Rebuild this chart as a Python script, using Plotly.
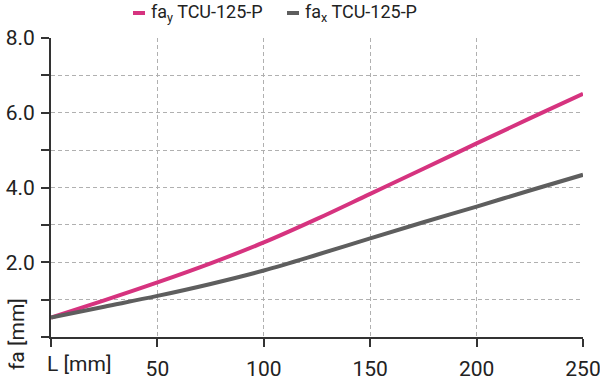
import plotly.graph_objects as go

L = [0, 25, 50, 75, 100, 125, 150, 175, 200, 225, 250]
fa_y = [0.52, 0.98, 1.46, 1.97, 2.53, 3.16, 3.83, 4.50, 5.18, 5.85, 6.51]
fa_x = [0.52, 0.81, 1.10, 1.42, 1.78, 2.20, 2.64, 3.07, 3.49, 3.92, 4.34]
series_names = ["fa<sub>y</sub> TCU-125-P", "fa<sub>x</sub> TCU-125-P"]
x_ticks = [0, 50, 100, 150, 200, 250]
x_ticktext = ["", "50", "100", "150", "200", "250"]
y_ticks = [0, 1, 2, 3, 4, 5, 6, 7, 8]
y_ticktext = ["", "", "2.0", "", "4.0", "", "6.0", "", "8.0"]

FONT = "Roboto, sans-serif"
PINK = "#d6337f"
GRAY = "#5e5e5e"
TXT = "#222222"

# plot area in pixels
W, H = 600, 383
ML, MR, MT, MB = 51, 17, 38, 46
PW, PH = W - ML - MR, H - MT - MB


def px(xp):
    return (xp - ML) / PW


def py(yp):
    return (H - MB - yp) / PH


fig = go.Figure()
fig.add_trace(go.Scatter(x=L, y=fa_y, mode="lines", name=series_names[0],
                         line=dict(color=PINK, width=4, shape="spline")))
fig.add_trace(go.Scatter(x=L, y=fa_x, mode="lines", name=series_names[1],
                         line=dict(color=GRAY, width=4, shape="spline")))

axis_common = dict(showline=True, linecolor="#333", linewidth=2,
                   ticks="outside", ticklen=8, tickwidth=2, tickcolor="#333",
                   showgrid=True, gridcolor="#b0b0b0", griddash="4px,3px", gridwidth=1,
                   zeroline=False, fixedrange=True, ticklabeloverflow="allow",
                   tickfont=dict(family=FONT, size=21, color=TXT))

fig.update_layout(
    width=W, height=H,
    margin=dict(l=ML, r=MR, t=MT, b=MB, autoexpand=False),
    paper_bgcolor="white", plot_bgcolor="white",
    font=dict(family=FONT, size=21, color=TXT),
    showlegend=False,
    xaxis=dict(range=[0, 250], tickvals=x_ticks, ticktext=x_ticktext,
               ticklabelstandoff=4, **axis_common),
    yaxis=dict(range=[0, 8], tickvals=y_ticks, ticktext=y_ticktext,
               ticklabelstandoff=2, **axis_common),
)

# axis titles
fig.add_annotation(text="L [mm]", xref="paper", yref="paper", x=px(45), y=py(364),
                   xanchor="left", yanchor="middle", showarrow=False,
                   font=dict(size=21, color=TXT))
fig.add_annotation(text="fa [mm]", xref="paper", yref="paper", x=px(17), y=py(334),
                   xanchor="center", yanchor="middle", textangle=-90, showarrow=False,
                   font=dict(size=21, color=TXT))

# legend (key swatches + labels) at top
legend_items = [(series_names[0], PINK, 133), (series_names[1], GRAY, 287)]
for name, color, x0 in legend_items:
    fig.add_shape(type="line", xref="paper", yref="paper",
                  x0=px(x0), x1=px(x0 + 12), y0=py(13), y1=py(13),
                  line=dict(color=color, width=4))
    fig.add_annotation(text=name, xref="paper", yref="paper",
                       x=px(x0 + 16), y=py(13),
                       xanchor="left", yanchor="middle", showarrow=False,
                       font=dict(size=18, color=TXT))

fig.write_html("out.html")
